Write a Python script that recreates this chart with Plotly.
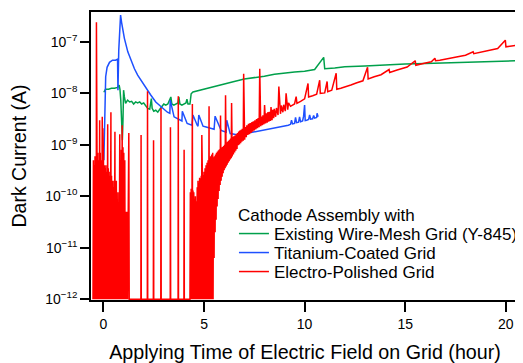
import plotly.graph_objects as go

# ---------------- data ----------------
# Existing Wire-Mesh Grid (Y-845)
green_hours = [0.02, 0.10, 0.25, 0.40, 0.55, 0.70, 0.78, 0.82, 0.86, 0.90,
               0.94, 0.97, 1.00, 1.04, 1.10, 1.20, 1.30, 1.40, 1.50, 1.60,
               1.70, 1.80, 1.90, 2.00, 2.10, 2.20, 2.30, 2.38, 2.42, 2.50,
               2.60, 2.70, 2.80, 2.90, 3.00, 3.10, 3.20, 3.35, 3.40, 3.50,
               3.60, 3.70, 3.75, 3.80, 3.90, 4.00, 4.10, 4.15, 4.20, 4.30,
               4.36, 4.45, 4.60, 4.80, 5.00, 5.30, 5.60, 6.00, 6.50, 7.00,
               7.50, 8.00, 8.50, 9.00, 9.50, 10.00, 10.50, 10.95, 11.00, 11.50,
               12.00, 13.00, 14.00, 15.00, 16.00, 17.00, 18.00, 19.00, 20.00, 20.70]
green_current = [1.05e-8, 1.2e-8, 1.2e-8, 1.25e-8, 1.25e-8, 1.3e-8, 1.45e-8, 1.2e-8, 7.4e-9, 1.95e-9,
                 1.23e-9, 3.0e-9, 1.15e-8, 8.5e-9, 6.4e-9, 7.4e-9, 6.8e-9, 7.0e-9, 6.2e-9, 6.8e-9,
                 6.5e-9, 6.8e-9, 6.2e-9, 6.5e-9, 5.6e-9, 5.1e-9, 4.9e-9, 7.9e-9, 5.1e-9, 4.5e-9,
                 4.7e-9, 4.3e-9, 4.9e-9, 5.6e-9, 6.2e-9, 5.9e-9, 6.2e-9, 8.5e-9, 6.2e-9, 5.9e-9,
                 6.2e-9, 6.5e-9, 8.5e-9, 6.2e-9, 5.9e-9, 6.2e-9, 6.5e-9, 7.7e-9, 6.2e-9, 6.2e-9,
                 9.8e-9, 1.06e-8, 1.1e-8, 1.15e-8, 1.2e-8, 1.3e-8, 1.4e-8, 1.55e-8, 1.7e-8, 1.9e-8,
                 2.0e-8, 2.15e-8, 2.35e-8, 2.5e-8, 2.6e-8, 2.7e-8, 2.9e-8, 5.0e-8, 3.0e-8, 3.1e-8,
                 3.3e-8, 3.4e-8, 3.6e-8, 3.7e-8, 3.8e-8, 3.9e-8, 4.0e-8, 4.1e-8, 4.2e-8, 4.3e-8]

# Titanium-Coated Grid
blue_hours = [0.02, 0.06, 0.11, 0.18, 0.30, 0.45, 0.60, 0.70, 0.72, 0.76,
              0.82, 0.85, 0.90, 0.97, 1.04, 1.21, 1.37, 1.54, 1.70, 1.86,
              2.11, 2.35, 2.60, 2.85, 3.18, 3.30, 3.32, 3.51, 3.83, 3.90,
              3.92, 4.16, 4.40, 4.45, 4.66, 4.70, 4.74, 4.95, 5.15, 5.50,
              5.55, 5.85, 6.10, 6.13, 6.30, 6.45, 6.72, 9.19, 9.30, 9.35,
              9.40, 9.50, 9.55, 9.60, 9.70, 9.75, 9.80, 9.90, 9.95, 10.00,
              10.03, 10.10, 10.20, 10.25, 10.30, 10.40, 10.45, 10.50, 10.60, 10.62,
              10.67]
blue_current = [5.0e-10, 7.4e-9, 2.1e-8, 3.2e-8, 4.0e-8, 4.4e-8, 4.4e-8, 4.6e-8, 1.15e-8, 6.9e-8,
                2.4e-7, 3.3e-7, 2.4e-7, 1.7e-7, 1.17e-7, 6.4e-8, 4.4e-8, 3.0e-8, 2.25e-8, 1.8e-8,
                1.25e-8, 9.3e-9, 6.8e-9, 5.5e-9, 4.3e-9, 4.1e-9, 7.4e-9, 3.5e-9, 3.0e-9, 2.9e-9,
                4.5e-9, 2.6e-9, 2.4e-9, 3.8e-9, 2.4e-9, 2.3e-9, 3.8e-9, 2.3e-9, 2.2e-9, 2.0e-9,
                3.6e-9, 1.9e-9, 1.75e-9, 3.0e-9, 1.65e-9, 1.6e-9, 1.55e-9, 2.4e-9, 2.5e-9, 3.0e-9,
                2.55e-9, 2.6e-9, 3.4e-9, 2.7e-9, 2.75e-9, 3.5e-9, 2.8e-9, 2.9e-9, 3.6e-9, 5.9e-9,
                2.95e-9, 3.0e-9, 3.1e-9, 3.8e-9, 3.15e-9, 3.2e-9, 3.7e-9, 3.3e-9, 3.4e-9, 4.1e-9,
                3.5e-9]

# Electro-Polished Grid (1e-12 = reading at the bottom of the scale)
red_early_hours = [-0.52, -0.50, -0.48, -0.46, -0.44, -0.42, -0.40, -0.38, -0.36, -0.35,
                   -0.34, -0.32, -0.30, -0.28, -0.26, -0.24, -0.22, -0.20, -0.19, -0.18,
                   -0.16, -0.14, -0.12, -0.10, -0.08, -0.06, -0.05, -0.03, -0.02, 0.00,
                   0.02, 0.04, 0.06, 0.08, 0.10, 0.12, 0.14, 0.16, 0.18, 0.21,
                   0.22, 0.24, 0.26, 0.28, 0.30, 0.32, 0.34, 0.37, 0.38, 0.40,
                   0.42, 0.44, 0.46, 0.48, 0.50, 0.52, 0.54, 0.57, 0.58, 0.60,
                   0.62, 0.64, 0.66, 0.68, 0.70, 0.72, 0.74, 0.76, 0.78, 0.81,
                   0.82, 0.85, 0.87, 0.89, 0.91, 0.93, 0.95, 0.97, 0.99, 1.01,
                   1.03, 1.06, 1.08, 1.12, 1.14, 1.18, 1.20, 1.26, 1.28]
red_early_current = [1e-12, 5e-10, 1e-12, 4e-10, 1e-12, 6e-10, 1e-12, 5e-10, 1e-12, 2.4e-7,
                     1e-12, 6e-10, 1e-12, 7e-10, 1e-12, 5e-10, 1e-12, 6e-10, 3.0e-9, 1e-12,
                     7e-10, 1e-12, 5e-10, 1e-12, 6e-10, 3.5e-9, 1e-12, 2.1e-9, 1e-12, 6e-10,
                     1e-12, 4e-10, 1e-12, 3.5e-10, 1e-12, 4e-10, 1e-12, 3e-10, 1e-12, 2.5e-9,
                     1e-12, 3.5e-10, 1e-12, 3e-10, 1e-12, 2.5e-10, 1e-12, 4.3e-9, 1e-12, 2.5e-10,
                     1e-12, 2e-10, 1e-12, 1.5e-10, 1e-12, 2e-10, 1e-12, 1.8e-9, 1e-12, 1.5e-10,
                     1e-12, 2e-10, 1e-12, 4e-11, 1e-12, 1.2e-10, 1e-12, 6e-11, 1e-12, 1.6e-9,
                     1e-12, 5e-10, 1e-12, 8e-10, 1e-12, 2.4e-9, 1e-12, 9e-10, 1e-12, 7e-10,
                     1e-12, 5e-10, 1e-12, 5e-11, 1e-12, 5e-11, 1e-12, 1.7e-9, 1e-12]

red_spike_hours = [1.86, 1.87, 1.88, 2.18, 2.19, 2.20, 2.48, 2.49, 2.50, 2.85,
                   2.86, 2.87, 3.32, 3.33, 3.34, 3.71, 3.72, 3.73, 4.00, 4.01, 4.02]
red_spike_current = [1e-12, 1.55e-9, 1e-12, 1e-12, 1.1e-8, 1e-12, 1e-12, 1.23e-9, 1e-12, 1e-12,
                     5.2e-9, 1e-12, 1e-12, 2.2e-9, 1e-12, 1e-12, 8.8e-9, 1e-12, 1e-12, 8e-10, 1e-12]

red_onset_hours = [4.30, 4.32, 4.34, 4.36, 4.38, 4.40, 4.42, 4.43, 4.45, 4.47,
                   4.49, 4.51, 4.53, 4.55, 4.57, 4.59, 4.61, 4.63, 4.66, 4.68,
                   4.70, 4.72, 4.74, 4.76, 4.78, 4.80, 4.82, 4.84, 4.86, 4.88,
                   4.89, 4.90, 4.92, 4.94, 4.96, 4.98, 5.00, 5.02, 5.05, 5.07,
                   5.10, 5.12, 5.15, 5.17, 5.20, 5.22, 5.25, 5.26, 5.28, 5.30,
                   5.33, 5.35, 5.38, 5.40, 5.43]
red_onset_current = [1e-12, 1.2e-10, 1e-12, 1.4e-10, 1e-12, 1.0e-10, 6.2e-9, 1e-12, 1.3e-10, 1e-12,
                     1.2e-10, 1e-12, 9e-11, 1e-12, 1.0e-10, 1e-12, 8e-11, 1e-12, 1.5e-10, 1e-12,
                     2.0e-10, 1e-12, 1.8e-10, 1e-12, 2.3e-10, 1e-12, 2.2e-10, 1e-12, 2.5e-10, 1e-12,
                     1.55e-9, 1e-12, 2.4e-10, 1e-12, 2.6e-10, 1e-12, 3.0e-10, 1e-12, 3.5e-10, 1e-12,
                     4.0e-10, 1e-12, 4.5e-10, 1e-12, 5.0e-10, 1e-12, 5.6e-9, 1e-12, 5.5e-10, 1e-12,
                     6.0e-10, 1e-12, 6.5e-10, 1e-12, 7.0e-10]

red_band_hours = [5.45, 5.47, 5.50, 5.52, 5.55, 5.57, 5.60, 5.62, 5.65, 5.67,
                  5.70, 5.72, 5.75, 5.77, 5.80, 5.82, 5.85, 5.87, 5.90, 5.92,
                  5.95, 5.97, 6.00, 6.02, 6.05, 6.07, 6.10, 6.12, 6.15, 6.17,
                  6.20, 6.22, 6.25, 6.27, 6.30, 6.32, 6.35, 6.37, 6.40, 6.42,
                  6.46, 6.48, 6.52, 6.54, 6.58, 6.60, 6.64, 6.66, 6.70, 6.72,
                  6.76, 6.78, 6.82, 6.84, 6.88, 6.90, 6.95, 6.97, 7.02, 7.05,
                  7.10, 7.13, 7.18, 7.21, 7.26, 7.29, 7.34, 7.37, 7.42, 7.45,
                  7.50, 7.53, 7.58, 7.61, 7.66, 7.69, 7.74, 7.77, 7.82, 7.85,
                  7.90, 7.93, 7.98, 8.01, 8.06, 8.09, 8.14, 8.17, 8.22, 8.25,
                  8.30, 8.33, 8.38, 8.41, 8.46, 8.49, 8.56, 8.60, 8.68, 8.72,
                  8.80, 8.84, 8.92, 8.96, 9.04, 9.08, 9.16, 9.20]
red_band_current = [1e-12, 5.7e-10, 6.3e-12, 6.0e-10, 2.0e-11, 6.5e-10, 3.5e-11, 7.0e-10, 6.3e-11, 7.4e-10,
                    8.9e-11, 7.8e-10, 1.26e-10, 8.2e-10, 1.66e-10, 3.7e-9, 2.0e-10, 8.8e-10, 2.4e-10, 9.1e-10,
                    2.8e-10, 9.5e-10, 3.2e-10, 1.0e-9, 3.5e-10, 9.2e-9, 3.8e-10, 1.1e-9, 4.1e-10, 1.15e-9,
                    4.5e-10, 1.2e-9, 4.8e-10, 1.26e-9, 5.2e-10, 1.32e-9, 5.5e-10, 6.5e-9, 5.9e-10, 1.41e-9,
                    6.5e-10, 1.46e-9, 7.1e-10, 1.51e-9, 7.7e-10, 1.6e-9, 8.3e-10, 1.7e-9, 9.8e-10, 1.82e-9,
                    1.02e-9, 1.9e-9, 1.07e-9, 1.95e-9, 1.15e-9, 2.05e-9, 1.2e-9, 2.4e-8, 1.26e-9, 2.2e-9,
                    1.4e-9, 2.4e-9, 1.55e-9, 2.57e-9, 1.6e-9, 2.65e-9, 1.7e-9, 2.75e-9, 1.8e-9, 2.85e-9,
                    1.9e-9, 3.0e-9, 2.0e-9, 3.15e-9, 2.1e-9, 3.3e-9, 2.2e-9, 3.0e-8, 2.3e-9, 3.55e-9,
                    2.4e-9, 3.75e-9, 2.5e-9, 5.9e-9, 2.6e-9, 4.1e-9, 2.7e-9, 4.3e-9, 2.8e-9, 4.4e-9,
                    2.9e-9, 5.4e-9, 3.0e-9, 4.8e-9, 3.3e-9, 5.0e-9, 3.5e-9, 5.2e-9, 3.8e-9, 1.35e-8,
                    4.0e-9, 5.8e-9, 4.3e-9, 6.0e-9, 4.5e-9, 1.0e-8, 4.8e-9, 6.5e-9]

red_late_hours = [9.30, 9.50, 9.58, 9.62, 9.80, 10.00, 10.17, 10.20, 10.40, 10.60,
                  10.75, 10.78, 11.00, 11.12, 11.15, 11.35, 11.57, 11.60, 11.80, 12.00,
                  12.30, 12.60, 12.90, 13.13, 13.16, 13.46, 13.80, 14.20, 14.23, 14.60,
                  15.10, 15.50, 15.53, 15.90, 16.30, 16.48, 16.51, 16.72, 17.10, 17.55,
                  18.00, 18.38, 18.41, 18.80, 19.20, 19.60, 19.98, 20.01, 20.30, 20.66]
red_late_current = [5.6e-9, 6.2e-9, 8.6e-9, 6.4e-9, 7.0e-9, 7.8e-9, 1.55e-8, 8.5e-9, 9.0e-9, 9.6e-9,
                    1.8e-8, 1.0e-8, 1.02e-8, 1.7e-8, 1.08e-8, 1.15e-8, 2.45e-8, 1.2e-8, 1.26e-8, 1.35e-8,
                    1.45e-8, 1.6e-8, 1.75e-8, 3.2e-8, 1.9e-8, 2.1e-8, 2.3e-8, 2.9e-8, 2.55e-8, 2.85e-8,
                    3.25e-8, 4.3e-8, 3.5e-8, 3.8e-8, 4.1e-8, 4.8e-8, 4.3e-8, 4.4e-8, 4.75e-8, 5.1e-8,
                    5.5e-8, 6.4e-8, 5.9e-8, 6.4e-8, 6.9e-8, 7.4e-8, 1.08e-7, 8.0e-8, 8.3e-8, 8.7e-8]

series_names = ["Existing Wire-Mesh Grid (Y-845)", "Titanium-Coated Grid", "Electro-Polished Grid"]
legend_title = "Cathode Assembly with"
x_tick_values = [0, 5, 10, 15, 20]
y_tick_values = [1e-12, 1e-11, 1e-10, 1e-9, 1e-8, 1e-7]
y_tick_labels = ["10<sup>\u221212</sup>", "10<sup>\u221211</sup>", "10<sup>\u221210</sup>",
                 "10<sup>\u22129</sup>", "10<sup>\u22128</sup>", "10<sup>\u22127</sup>"]

red_hours = red_early_hours + red_spike_hours + red_onset_hours + red_band_hours + red_late_hours
red_current = red_early_current + red_spike_current + red_onset_current + red_band_current + red_late_current

GREEN = "#00a04b"
BLUE = "#1e50ff"
RED = "#ff0000"
FONT = "Liberation Sans, Arial, Helvetica, sans-serif"
LEG_FONT = 17
LEG_X = 0.334

fig = go.Figure()
fig.add_trace(go.Scatter(x=green_hours, y=green_current, mode="lines", name=series_names[0],
                         line=dict(color=GREEN, width=1.5), legend="legend", showlegend=True))
fig.add_trace(go.Scatter(x=blue_hours, y=blue_current, mode="lines", name=series_names[1],
                         line=dict(color=BLUE, width=1.5), legend="legend2", showlegend=True))
fig.add_trace(go.Scatter(x=red_hours, y=red_current, mode="lines", name=series_names[2],
                         line=dict(color=RED, width=1.5), legend="legend3", showlegend=True))

# the page body adds an 8px offset, so the figure is 8px smaller and margins compensate
leg_common = dict(font=dict(size=LEG_FONT), xanchor="left", yanchor="middle",
                  bgcolor="rgba(0,0,0,0)", itemwidth=30, visible=True, x=LEG_X)
fig.update_layout(
    width=515, height=355,
    margin=dict(l=83, r=0, t=4, b=63),
    showlegend=True,
    paper_bgcolor="white", plot_bgcolor="white",
    font=dict(family=FONT, color="black", size=14),
    legend=dict(y=(300 - 234) / 288, **leg_common),
    legend2=dict(y=(300 - 253) / 288, **leg_common),
    legend3=dict(y=(300 - 272) / 288, **leg_common),
    annotations=[dict(text=legend_title, xref="paper", yref="paper",
                      x=(237 - 91) / 432, y=(300 - 215) / 288,
                      xanchor="left", yanchor="middle", showarrow=False,
                      font=dict(size=LEG_FONT))],
    xaxis=dict(
        range=[-0.62, 20.66], tickvals=x_tick_values,
        ticks="outside", ticklen=10, tickwidth=1.5, tickcolor="black",
        showline=True, linecolor="black", linewidth=1.5, mirror=True,
        showgrid=False, zeroline=False, tickfont=dict(size=14), automargin=False,
        title=dict(text="Applying Time of Electric Field on Grid (hour)",
                   font=dict(size=19.7), standoff=20),
    ),
    yaxis=dict(
        type="log", range=[-12.015, -6.42],
        tickvals=y_tick_values, ticktext=y_tick_labels,
        ticks="outside", ticklen=9, tickwidth=1.5, tickcolor="black",
        showline=True, linecolor="black", linewidth=1.5, mirror=False,
        showgrid=False, zeroline=False, tickfont=dict(size=14), automargin=False,
        title=dict(text="Dark Current (A)", font=dict(size=19.5), standoff=16),
    ),
)

fig.write_html("out.html")
